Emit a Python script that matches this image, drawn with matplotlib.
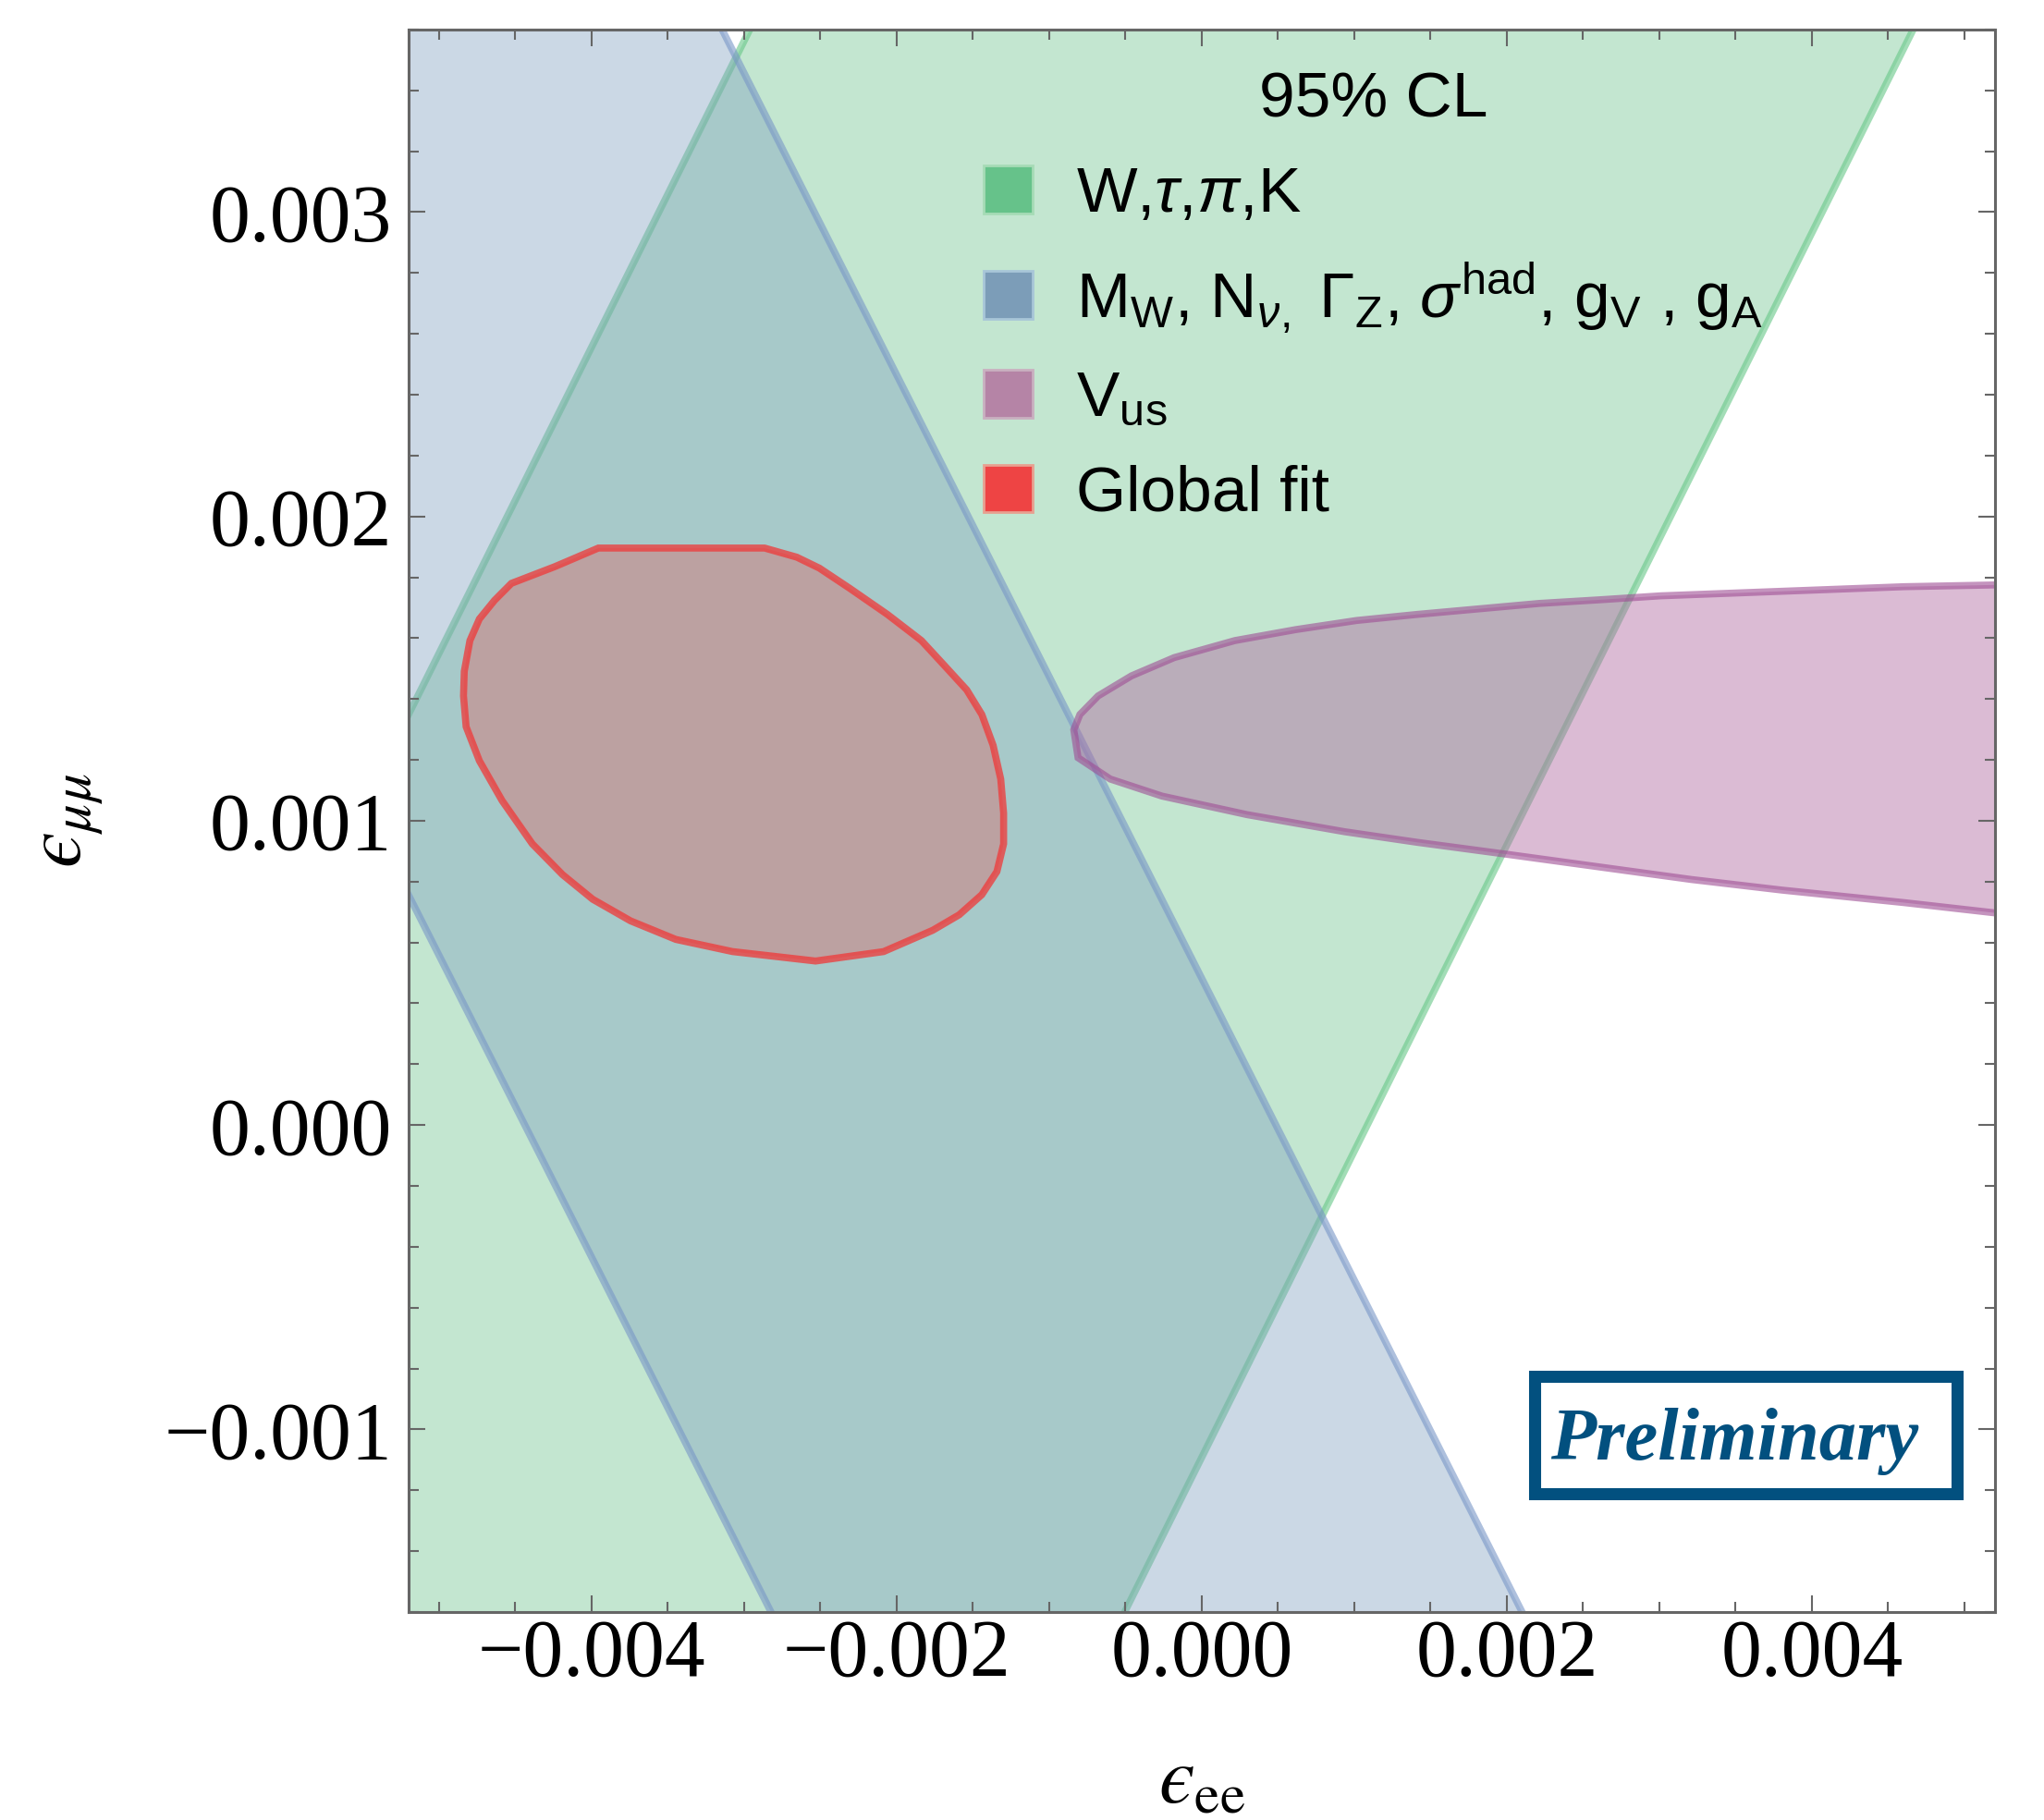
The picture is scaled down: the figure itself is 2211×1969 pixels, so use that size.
import matplotlib
matplotlib.use('Agg')
import matplotlib.pyplot as plt
from matplotlib.patches import Patch, Rectangle
from matplotlib.ticker import MultipleLocator

plt.rcParams['font.family'] = ['Liberation Sans', 'DejaVu Sans']
plt.rcParams['mathtext.fontset'] = 'custom'
plt.rcParams['mathtext.rm'] = 'Liberation Sans'
plt.rcParams['mathtext.it'] = 'Liberation Sans:italic'
plt.rcParams['mathtext.bf'] = 'Liberation Sans:bold'

# 95% CL regions, (eps_ee, eps_mumu) outlines
# W, tau, pi, K : band between two lines of slope ~1
wtpk_ee = [-0.009524, -0.001571, 0.006056, -0.001897]
wtpk_mumu = [-0.0030, 0.0050, 0.0050, -0.0030]

# M_W, N_nu, Gamma_Z, sigma_had, g_V, g_A : band between two lines of slope ~-1
ewpo_ee = [-0.009481, -0.004557, 0.003512, -0.001412]
ewpo_mumu = [0.0050, 0.0050, -0.0030, -0.0030]

# V_us : open parabola-like region
vus_ee = [0.00560, 0.005221, 0.004603, 0.003805, 0.003008, 0.002609, 0.002211, 0.001812,
          0.001413, 0.001015, 0.000616, 0.000217, -0.000181, -0.000461, -0.000680,
          -0.000799, -0.000839, -0.000811, -0.000600, -0.000261, 0.000297, 0.000935,
          0.001413, 0.002011, 0.002609, 0.003208, 0.003805, 0.004603, 0.005221, 0.00560]
vus_mumu = [0.001790, 0.001775, 0.001769, 0.001754, 0.001739, 0.001726, 0.001714, 0.001696,
            0.001678, 0.001658, 0.001628, 0.001592, 0.001536, 0.001476, 0.001410,
            0.001349, 0.001299, 0.001207, 0.001137, 0.001081, 0.001020, 0.000964,
            0.000929, 0.000889, 0.000848, 0.000807, 0.000772, 0.000731, 0.000696, 0.000680]

# global fit
fit_ee = [-0.003956, -0.002866, -0.002655, -0.002507, -0.002309, -0.002061, -0.001838,
          -0.001689, -0.001541, -0.001442, -0.001368, -0.001318, -0.001299, -0.001299,
          -0.001343, -0.001442, -0.001590, -0.001764, -0.002086, -0.002532, -0.003076,
          -0.003448, -0.003745, -0.003993, -0.004191, -0.004389, -0.004587, -0.004736,
          -0.004823, -0.004840, -0.004835, -0.004798, -0.004736, -0.004637, -0.004526,
          -0.004241]
fit_mumu = [0.001896, 0.001896, 0.001866, 0.001830, 0.001764, 0.001678, 0.001592,
            0.001511, 0.001430, 0.001349, 0.001248, 0.001137, 0.001025, 0.000924,
            0.000833, 0.000757, 0.000691, 0.000640, 0.000570, 0.000539, 0.000570,
            0.000610, 0.000671, 0.000742, 0.000823, 0.000924, 0.001066, 0.001197,
            0.001309, 0.001410, 0.001491, 0.001592, 0.001663, 0.001724, 0.001780,
            0.001835]

xticks = [-0.004, -0.002, 0.0, 0.002, 0.004]
xticklabels = ['\u22120.004', '\u22120.002', '0.000', '0.002', '0.004']
yticks = [-0.001, 0.0, 0.001, 0.002, 0.003]
yticklabels = ['\u22120.001', '0.000', '0.001', '0.002', '0.003']

labels = [r'W,$\tau$,$\pi$,K',
          r'M$_\mathrm{W}$, N$_{\nu,}$ Γ$_\mathrm{Z}$, $\sigma^\mathrm{had}$, g$_\mathrm{V}$ , g$_\mathrm{A}$',
          r'V$_\mathrm{us}$',
          'Global fit']

fig = plt.figure(figsize=(22.11, 19.69), dpi=100)
ax = fig.add_axes([0.1999, 0.1143, 0.7761, 0.8695])

ax.fill(wtpk_ee, wtpk_mumu, facecolor=(0.42, 0.76, 0.54, 0.4),
        edgecolor=(0.40, 0.78, 0.53, 0.6), lw=5.5)
ax.fill(ewpo_ee, ewpo_mumu, facecolor=(0.49, 0.62, 0.75, 0.4),
        edgecolor=(0.47, 0.59, 0.78, 0.6), lw=5.5)
ax.fill(vus_ee, vus_mumu, facecolor=(0.69, 0.41, 0.63, 0.45),
        edgecolor=(0.62, 0.30, 0.58, 0.6), lw=5.5)
ax.fill(fit_ee, fit_mumu, facecolor=(0.93, 0.27, 0.27, 0.3),
        edgecolor=(0.94, 0.22, 0.22, 0.75), lw=5.5)

ax.set_xlim(-0.0052, 0.0052)
ax.set_ylim(-0.0016, 0.0036)

ax.set_xticks(xticks)
ax.set_xticklabels(xticklabels)
ax.set_yticks(yticks)
ax.set_yticklabels(yticklabels)
ax.xaxis.set_minor_locator(MultipleLocator(0.0005))
ax.yaxis.set_minor_locator(MultipleLocator(0.0002))
ax.tick_params(which='both', direction='in', top=True, right=True, color='#666666', width=1.5)
ax.tick_params(which='major', length=13)
ax.tick_params(which='minor', length=8)
ax.tick_params(axis='x', which='major', pad=5)
ax.tick_params(axis='y', which='major', pad=13)
for lab in ax.get_xticklabels() + ax.get_yticklabels():
    lab.set_fontfamily('Liberation Serif')
    lab.set_fontsize(63)
for sp in ax.spines.values():
    sp.set_color('#666666')
    sp.set_linewidth(2.2)

ax.set_xlabel('$\u03f5_{\\mathrm{ee}}$', fontsize=63, math_fontfamily='stix', labelpad=40)
ax.set_ylabel('$\u03f5_{\\mu\\mu}$', fontsize=63, math_fontfamily='stix', labelpad=45)

handles = [Patch(facecolor='#66c28a', edgecolor='#a6dbb6', lw=2),
           Patch(facecolor='#7c9db8', edgecolor='#a8c6d8', lw=2),
           Patch(facecolor='#b584a6', edgecolor='#c9b0c0', lw=2),
           Patch(facecolor='#ee4444', edgecolor='#e8a090', lw=2)]
ax.legend(handles, labels, title='95% CL', loc='upper left',
          bbox_to_anchor=(0.4812, 0.9609), bbox_transform=fig.transFigure,
          frameon=False, fontsize=50, title_fontsize=50, handlelength=0.76,
          handleheight=0.76, handletextpad=0.68, labelspacing=0.55,
          borderpad=0, borderaxespad=0)

fig.add_artist(Rectangle((0.7506, 0.1795), 0.2067, 0.0645, transform=fig.transFigure,
                         fill=False, edgecolor='#02507f', lw=9.4))
fig.text(0.8485, 0.198, 'Preliminary', ha='center', va='baseline', fontsize=58,
         family='Liberation Serif', style='italic', weight='bold', color='#02507f')

fig.savefig('out.png', dpi=100)
